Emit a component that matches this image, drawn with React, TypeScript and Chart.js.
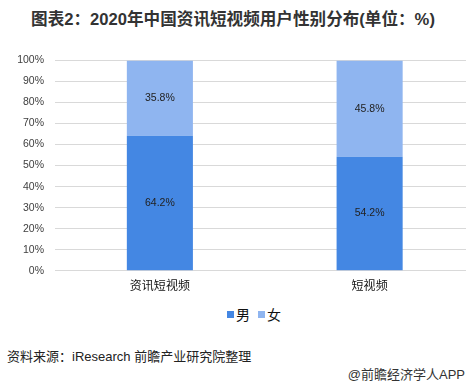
import React, { useEffect, useRef } from "react";
import { Chart, registerables } from "chart.js";

Chart.register(...registerables);

const categories = ["资讯短视频", "短视频"];
const maleValues = [64.2, 54.2];
const femaleValues = [35.8, 45.8];
const seriesNames = ["男", "女"];
const seriesColors = ["#4487e3", "#8fb5f0"];
const yTicks = [0, 10, 20, 30, 40, 50, 60, 70, 80, 90, 100];

const titleText = "图表2：2020年中国资讯短视频用户性别分布(单位：%)";
const sourceText = "资料来源：iResearch 前瞻产业研究院整理";
const brandText = "@前瞻经济学人APP";

const FONT = '"Liberation Sans", "Noto Sans CJK SC", sans-serif';

const dataLabelPlugin = {
  id: "dataLabels",
  afterDatasetsDraw(chart: any) {
    const ctx = chart.ctx;
    ctx.save();
    ctx.font = `10.5px ${FONT}`;
    ctx.fillStyle = "#222222";
    ctx.textAlign = "center";
    ctx.textBaseline = "middle";
    chart.data.datasets.forEach((ds: any, di: number) => {
      const meta = chart.getDatasetMeta(di);
      meta.data.forEach((el: any, i: number) => {
        const v = ds.data[i];
        const p = el.getProps(["x", "y", "base"], true);
        ctx.fillText(`${v.toFixed(1)}%`, p.x, (p.y + p.base) / 2);
      });
    });
    ctx.restore();
  },
};

export default function App() {
  const ref = useRef<HTMLCanvasElement>(null);

  useEffect(() => {
    document.body.style.margin = "0";
    if (!ref.current) return;
    const chart = new Chart(ref.current, {
      type: "bar",
      data: {
        labels: categories,
        datasets: [
          {
            label: seriesNames[0],
            data: maleValues,
            backgroundColor: seriesColors[0],
            barPercentage: 0.315,
            categoryPercentage: 1,
          },
          {
            label: seriesNames[1],
            data: femaleValues,
            backgroundColor: seriesColors[1],
            barPercentage: 0.315,
            categoryPercentage: 1,
          },
        ],
      },
      options: {
        animation: false,
        responsive: false,
        maintainAspectRatio: false,
        devicePixelRatio: 1,
        layout: { padding: { top: 60.5, right: 27.5, left: 0, bottom: 4.3 } },
        plugins: {
          legend: { display: false },
          tooltip: { enabled: false },
          title: { display: false },
        },
        scales: {
          x: {
            stacked: true,
            grid: { display: false, drawTicks: false },
            border: { display: true, color: "#d9d9d9" },
            ticks: {
              color: "#111111",
              padding: 9,
              font: { size: 12, family: FONT },
            },
            afterFit(scale: any) {
              scale.height = 25;
            },
          },
          y: {
            stacked: true,
            min: 0,
            max: 100,
            afterBuildTicks(scale: any) {
              scale.ticks = yTicks.map((v) => ({ value: v }));
            },
            grid: { color: "#d9d9d9", drawTicks: false, lineWidth: 1 },
            border: { display: false },
            ticks: {
              color: "#404040",
              padding: 11,
              font: { size: 10.5, family: FONT },
              callback: (v: any) => `${v}%`,
            },
            afterFit(scale: any) {
              scale.width = 55;
            },
          },
        },
      },
      plugins: [dataLabelPlugin],
    });
    return () => chart.destroy();
  }, []);

  return (
    <div
      style={{
        position: "relative",
        width: 466,
        height: 388,
        overflow: "hidden",
        background: "#ffffff",
        fontFamily: FONT,
      }}
    >
      <div
        style={{
          position: "absolute",
          top: 10,
          left: 0,
          width: 466,
          textAlign: "center",
          fontWeight: "bold",
          fontSize: 16.6,
          lineHeight: "20px",
          color: "#333333",
          whiteSpace: "nowrap",
        }}
      >
        {titleText}
      </div>
      <canvas
        ref={ref}
        width={502}
        height={300}
        style={{ position: "absolute", top: 0, left: 0, width: 502, height: 300 }}
      />
      <div
        style={{
          position: "absolute",
          top: 305,
          left: 227,
          height: 18,
          display: "flex",
          alignItems: "center",
          fontSize: 14,
          color: "#111111",
          whiteSpace: "nowrap",
        }}
      >
        {seriesNames.map((n, i) => (
          <div key={n} style={{ display: "flex", alignItems: "center", marginRight: 8 }}>
            <span style={{ width: 7, height: 7, background: seriesColors[i], display: "inline-block" }} />
            <span style={{ marginLeft: 2 }}>{n}</span>
          </div>
        ))}
      </div>
      <div
        style={{
          position: "absolute",
          top: 349,
          left: 7,
          fontSize: 13,
          lineHeight: "16px",
          color: "#222222",
          whiteSpace: "nowrap",
        }}
      >
        {sourceText}
      </div>
      <div
        style={{
          position: "absolute",
          top: 367,
          right: 1,
          fontSize: 13,
          lineHeight: "16px",
          color: "#333333",
          whiteSpace: "nowrap",
        }}
      >
        {brandText}
      </div>
    </div>
  );
}
